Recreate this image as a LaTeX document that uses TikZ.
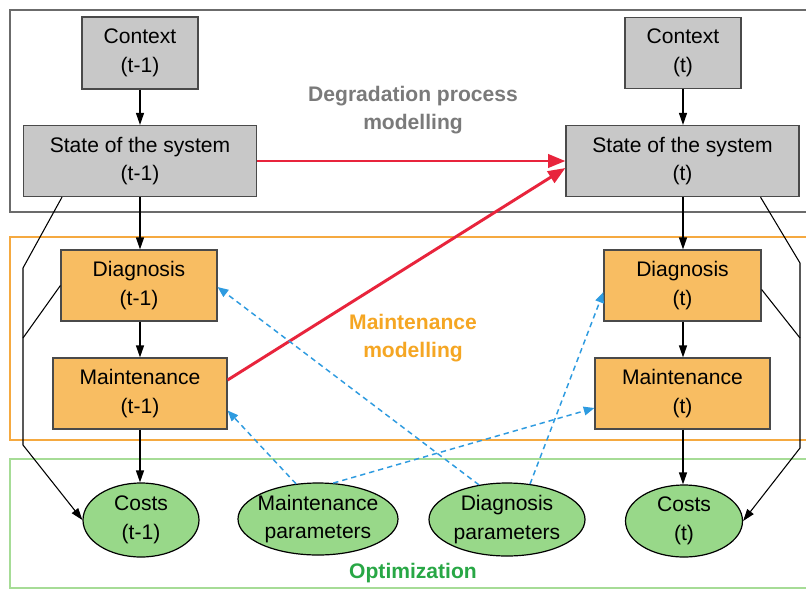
\documentclass[tikz,border=0pt]{standalone}
\usepackage{fontspec}
\setmainfont{Liberation Sans}
\usetikzlibrary{shapes.geometric,arrows.meta,calc}
\definecolor{boxgray}{HTML}{C8C8C8}
\definecolor{boxorange}{HTML}{F8BD62}
\definecolor{boxgreen}{HTML}{98D889}
\definecolor{framegray}{HTML}{6B6B6B}
\definecolor{frameorange}{HTML}{F5A940}
\definecolor{framegreen}{HTML}{A6DC96}
\definecolor{txtgray}{HTML}{7A7A7A}
\definecolor{txtorange}{HTML}{F5A623}
\definecolor{txtgreen}{HTML}{28A745}
\definecolor{arrred}{HTML}{E8243C}
\definecolor{arrblue}{HTML}{2E9BE0}
\definecolor{edgegray}{HTML}{4A4A4A}
\tikzset{
  base/.style={font=\fontsize{15.8}{21.5}\selectfont, align=center, inner sep=0pt},
  grbox/.style={base, rectangle, draw=edgegray, line width=0.9pt, fill=boxgray},
  orbox/.style={base, rectangle, draw=edgegray, line width=0.9pt, fill=boxorange},
  gnell/.style={ellipse, draw=black, line width=0.9pt, fill=boxgreen, inner sep=0pt},
  txt/.style={base},
  ttl/.style={font=\bfseries\fontsize{15.8}{21}\selectfont, align=center, inner sep=0pt},
  blk/.style={draw=black, line width=0.9pt, -{Triangle[length=9pt,width=6pt]}},
  thin/.style={draw=black, line width=0.8pt},
  red/.style={draw=arrred, line width=2.2pt, -{Triangle[length=13pt,width=10pt]}},
  blu/.style={draw=arrblue, line width=1.1pt, dash pattern=on 4pt off 3pt, -{Triangle[length=8pt,width=6.5pt]}},
}
\begin{document}
\begin{tikzpicture}[x=0.75pt, y=-0.75pt]
\useasboundingbox (0,0) rectangle (806,590);
\clip (0,0) rectangle (806,590);
\fill[white] (0,0) rectangle (806,590);
% frames
\draw[framegray, line width=1.6pt] (10,10) rectangle (830,212);
\draw[frameorange, line width=1.4pt] (10,237) rectangle (830,440);
\draw[framegreen, line width=1.4pt] (10,459) rectangle (830,588);
% frame titles
\node[ttl, text=txtgray] (tDeg) at (413,110) {Degradation process\\modelling};
\node[ttl, text=txtorange] (tMai) at (413,338) {Maintenance\\modelling};
\node[ttl, text=txtgreen] (tOpt) at (413,573) {Optimization};
% boxes
\node[grbox, minimum width=87pt, minimum height=54pt] (C1) at (140,53) {Context\\(t-1)};
\node[grbox, minimum width=174.75pt, minimum height=53.25pt] (S1) at (140,161) {State of the system\\(t-1)};
\node[grbox, minimum width=87pt, minimum height=53.25pt] (C2) at (683,53) {Context\\(t)};
\node[grbox, minimum width=174.75pt, minimum height=53.25pt] (S2) at (682.5,161) {State of the system\\(t)};
\node[orbox, minimum width=117pt, minimum height=53.25pt] (D1) at (139,285.5) {Diagnosis\\(t-1)};
\node[orbox, minimum width=130.5pt, minimum height=53.25pt] (M1) at (140,393.5) {Maintenance\\(t-1)};
\node[orbox, minimum width=117.75pt, minimum height=53.25pt] (D2) at (682.5,285.5) {Diagnosis\\(t)};
\node[orbox, minimum width=131.25pt, minimum height=53.25pt] (M2) at (682.5,393.5) {Maintenance\\(t)};
% ellipses
\node[gnell, minimum width=87pt, minimum height=55.5pt] (K1) at (141,520) {};
\node[txt] (K1t) at (K1) {Costs\\(t-1)};
\node[gnell, minimum width=120pt, minimum height=54pt] (MP) at (318,519) {};
\node[txt] (MPt) at (MP) {Maintenance\\parameters};
\node[gnell, minimum width=117pt, minimum height=54.75pt] (DP) at (507,519.5) {};
\node[txt] (DPt) at (DP) {Diagnosis\\parameters};
\node[gnell, minimum width=87.75pt, minimum height=54pt] (K2) at (684,521) {};
\node[txt] (K2t) at (K2) {Costs\\(t)};
% black vertical arrows
\draw[blk] (C1.south) -- (S1.north -| C1.south);
\draw[blk] (S1.south -| C1.south) -- (D1.north -| C1.south);
\draw[blk] (D1.south -| C1.south) -- (M1.north -| C1.south);
\draw[blk] (M1.south -| C1.south) -- (K1.north -| C1.south);
\draw[blk] (C2.south) -- (S2.north -| C2.south);
\draw[blk] (S2.south -| C2.south) -- (D2.north -| C2.south);
\draw[blk] (D2.south -| C2.south) -- (M2.north -| C2.south);
\draw[blk] (M2.south -| C2.south) -- (K2.north -| C2.south);
% side lines
\coordinate (L1) at (23,268);
\coordinate (L2) at (23,338);
\coordinate (L3) at (23,445);
\coordinate (R1) at (800,263);
\coordinate (R2) at (800,338);
\coordinate (R3) at (800,448);
\draw[thin, -{Triangle[length=9pt,width=6pt]}] ($(S1.south west)!0.167!(S1.south east)$) -- (L1) -- (L3) -- (K1.west);
\draw[thin] (D1.west) -- (L2);
\draw[thin, -{Triangle[length=9pt,width=6pt]}] ($(S2.south west)!0.833!(S2.south east)$) -- (R1) -- (R3) -- (K2.east);
\draw[thin] ($(D2.east)+(0,4)$) -- (R2);
% red arrows
\draw[red] (S1.east) -- (S2.west);
\draw[red] ($(M1.east)+(0,-13.5)$) -- ($(S2.west)+(0,7)$);
% blue dashed arrows
\draw[blu] (DP.129) -- ($(D1.east)+(0,1.5)$);
\draw[blu] (DP.57) -- ($(D2.west)+(0,6.5)$);
\draw[blu] (MP.122) -- ($(M1.east)+(0,17)$);
\draw[blu] (MP.67) -- ($(M2.west)+(0,14.5)$);
\end{tikzpicture}
\end{document}
